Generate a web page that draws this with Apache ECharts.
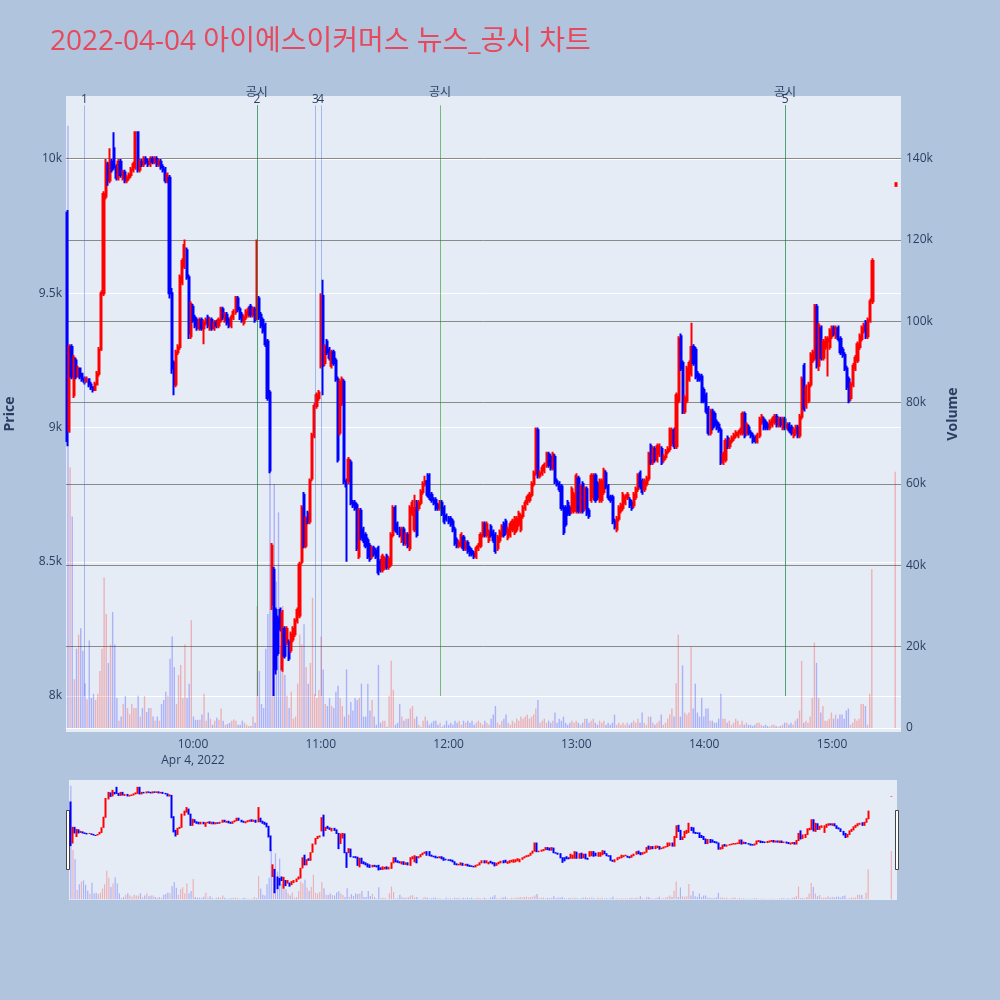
<!DOCTYPE html>
<html>
<head>
<meta charset="utf-8">
<script src="https://cdn.jsdelivr.net/npm/echarts@6/dist/echarts.min.js"></script>
<style>
html,body{margin:0;padding:0;background:#B0C4DE;}
#chart{width:1000px;height:1000px;}
</style>
</head>
<body>
<div id="chart"></div>
<script>
const TITLE = '2022-04-04 아이에스이커머스 뉴스_공시 차트';
const TRADE_DATE = [2022, 3, 4];
const DATE_LABEL = 'Apr 4, 2022';

// minute bars: 09:01 ... 15:19 continuous session, then 15:30 closing auction
const barMinutes = Array.from({length: 379}, (_, i) => i + 1).concat([390]);

const opens = [
9800,8990,9300,9120,9250,9190,9220,9200,9180,9170,
9180,9160,9150,9140,9160,9200,9290,9500,9860,9980,
9920,9990,10040,9970,9930,9990,9930,9950,9920,9930,
9940,9960,9970,10100,9960,9990,9980,10000,9990,9980,
10000,9990,10000,9980,9990,9970,9960,9920,9930,9500,
9240,9160,9280,9300,9540,9600,9660,9560,9340,9450,
9410,9400,9370,9400,9370,9390,9410,9370,9400,9370,
9390,9380,9400,9440,9400,9420,9400,9380,9410,9430,
9480,9440,9420,9390,9410,9420,9450,9420,9440,9410,
9480,9420,9400,9380,9320,9130,8340,8470,8320,8290,
8320,8100,8250,8200,8200,8170,8210,8230,8280,8300,
8500,8750,8560,8680,8650,8810,8970,9080,9110,9230,
9490,9240,9320,9290,9230,9280,9250,9180,8980,9090,
9170,8800,8800,8870,8720,8720,8710,8520,8690,8620,
8600,8580,8560,8520,8550,8540,8550,8500,8470,8480,
8520,8480,8490,8600,8700,8640,8620,8580,8620,8570,
8600,8550,8680,8620,8720,8700,8720,8760,8790,8800,
8820,8750,8730,8730,8710,8700,8720,8700,8670,8660,
8660,8650,8620,8580,8560,8560,8590,8550,8570,8550,
8540,8530,8520,8550,8560,8600,8640,8600,8580,8630,
8610,8600,8550,8580,8600,8640,8650,8590,8600,8620,
8610,8620,8640,8620,8670,8700,8720,8730,8750,8790,
8830,8990,8820,8830,8840,8860,8900,8890,8850,8890,
8800,8790,8780,8700,8700,8720,8700,8690,8690,8690,
8810,8690,8790,8700,8770,8690,8730,8740,8820,8790,
8730,8730,8760,8830,8780,8740,8740,8650,8620,8660,
8690,8700,8720,8740,8730,8720,8710,8740,8770,8830,
8800,8770,8790,8810,8930,8870,8920,8880,8900,8920,
8880,8890,8910,8920,8940,8990,8930,9100,9340,9240,
9060,9100,9180,9200,9300,9290,9200,9190,9190,9140,
9120,9070,8980,9060,9050,9020,9010,8990,8870,8880,
8960,8930,8950,8960,8970,8970,8980,8980,9050,8980,
9000,8980,8970,8960,8950,8970,9020,9030,9020,9010,
9000,9010,9020,9040,9010,9030,9000,9030,9000,9010,
9000,8970,8980,9000,8970,9040,9230,9080,9100,9160,
9250,9260,9450,9230,9370,9260,9300,9320,9300,9340,
9370,9340,9370,9330,9290,9270,9220,9180,9110,9160,
9220,9250,9300,9330,9360,9390,9340,9400,9470,
9900];

const closes = [
8950,9300,9190,9260,9190,9220,9190,9180,9170,9180,
9160,9150,9140,9160,9200,9290,9500,9870,9980,9920,
9990,9960,9970,9930,9990,9940,9950,9920,9930,9940,
9960,9980,10100,9960,9990,9980,10000,9990,9980,10000,
9990,10000,9980,9990,9970,9960,9920,9940,9500,9220,
9160,9280,9300,9560,9620,9680,9560,9350,9460,9400,
9380,9370,9400,9370,9390,9400,9380,9400,9370,9390,
9380,9400,9440,9410,9420,9390,9380,9410,9430,9480,
9440,9410,9400,9410,9430,9440,9420,9440,9400,9480,
9410,9380,9360,9310,9110,8840,8560,8100,8100,8160,
8250,8310,8150,8250,8140,8230,8250,8280,8320,8490,
8700,8560,8660,8650,8800,8970,9080,9120,9130,9490,
9230,9300,9280,9260,9280,9240,9180,8880,9170,9180,
8800,8780,8880,8720,8710,8700,8550,8690,8590,8580,
8560,8520,8510,8550,8530,8520,8460,8470,8520,8510,
8480,8510,8600,8700,8620,8610,8600,8620,8570,8600,
8560,8700,8720,8700,8600,8720,8760,8790,8800,8750,
8740,8730,8720,8700,8700,8720,8680,8650,8660,8650,
8640,8620,8570,8560,8570,8600,8550,8570,8540,8530,
8530,8520,8550,8560,8600,8640,8600,8640,8610,8600,
8580,8540,8590,8610,8630,8600,8610,8620,8640,8650,
8660,8660,8680,8670,8700,8720,8740,8750,8790,8830,
8990,8820,8830,8850,8860,8900,8860,8850,8900,8800,
8790,8770,8700,8610,8640,8680,8680,8770,8750,8820,
8690,8780,8690,8770,8680,8670,8820,8820,8730,8740,
8800,8800,8840,8780,8740,8730,8650,8630,8660,8700,
8710,8750,8740,8750,8710,8700,8750,8770,8820,8780,
8760,8800,8810,8900,8870,8920,8880,8930,8930,8870,
8890,8910,8920,8990,8990,8930,9120,9330,9220,9060,
9110,9220,9240,9300,9240,9190,9180,9180,9100,9100,
9060,8980,9060,9000,9010,9000,8990,8870,8900,8950,
8930,8950,8960,8970,8980,8980,8990,9050,8970,9010,
8980,8970,8950,8950,8970,9030,9040,9000,9000,9000,
9020,9030,9040,9010,9030,9010,9030,9000,9010,8990,
8980,8990,9000,8970,9040,9180,9070,9150,9160,9270,
9280,9450,9230,9380,9260,9320,9330,9330,9360,9370,
9350,9370,9330,9280,9270,9220,9150,9100,9160,9230,
9260,9310,9340,9370,9380,9340,9400,9470,9620,
9910];

const lows = [
8930,8980,9180,9110,9180,9190,9180,9170,9160,9170,
9150,9140,9130,9140,9160,9190,9290,9490,9850,9900,
9910,9950,9960,9920,9920,9930,9920,9910,9910,9920,
9930,9950,9960,9950,9950,9970,9970,9980,9970,9970,
9980,9980,9970,9970,9960,9950,9910,9910,9480,9200,
9120,9150,9270,9290,9530,9590,9550,9330,9330,9390,
9370,9360,9360,9360,9310,9380,9370,9360,9360,9360,
9370,9370,9390,9400,9390,9380,9370,9370,9400,9420,
9430,9400,9390,9380,9400,9410,9410,9410,9390,9400,
9400,9370,9350,9300,9100,8830,8320,8000,8080,8150,
8240,8090,8140,8190,8130,8160,8200,8220,8270,8290,
8490,8550,8550,8640,8640,8800,8960,9070,9100,9220,
9120,9230,9270,9250,9220,9230,9170,8870,8970,9080,
8790,8500,8790,8710,8700,8690,8540,8510,8580,8570,
8550,8510,8500,8510,8520,8510,8450,8460,8460,8470,
8470,8470,8480,8590,8610,8600,8590,8570,8560,8560,
8550,8540,8670,8610,8590,8690,8710,8750,8780,8740,
8730,8720,8710,8690,8690,8690,8670,8640,8650,8640,
8630,8610,8560,8550,8550,8550,8540,8540,8530,8520,
8520,8510,8510,8540,8550,8590,8590,8590,8570,8590,
8570,8530,8540,8570,8590,8590,8600,8580,8590,8610,
8600,8610,8630,8610,8660,8690,8710,8720,8740,8780,
8820,8810,8810,8820,8830,8850,8850,8840,8840,8790,
8780,8760,8690,8600,8630,8670,8670,8680,8680,8680,
8680,8680,8680,8690,8670,8660,8720,8730,8720,8730,
8720,8720,8750,8770,8730,8720,8640,8620,8610,8650,
8680,8690,8710,8730,8700,8690,8700,8730,8760,8770,
8750,8760,8780,8800,8860,8860,8870,8870,8890,8860,
8870,8880,8900,8910,8930,8920,8920,9090,9210,9050,
9050,9090,9170,9190,9230,9180,9170,9170,9090,9090,
9050,8970,8970,8990,9000,8990,8980,8860,8860,8870,
8920,8920,8940,8950,8960,8960,8970,8970,8960,8970,
8970,8960,8940,8940,8940,8960,9010,8990,8990,8990,
8990,9000,9010,9000,9000,9000,8990,8990,8990,8980,
8970,8960,8970,8960,8960,9030,9060,9070,9090,9150,
9240,9250,9220,9210,9250,9250,9290,9190,9290,9330,
9340,9330,9320,9270,9260,9210,9140,9090,9100,9150,
9210,9240,9290,9320,9350,9330,9330,9390,9460,
9900];

const highs = [
9810,9310,9310,9270,9260,9230,9220,9200,9190,9190,
9180,9170,9150,9170,9210,9300,9510,9880,10000,9990,
10040,10000,10100,9980,10000,10000,9960,9960,9940,9950,
9970,9990,10100,10100,10000,10000,10010,10010,10000,10010,
10010,10010,10010,10000,10000,9980,9970,9950,9940,9520,
9250,9290,9310,9570,9630,9700,9670,9570,9470,9460,
9420,9410,9410,9410,9400,9410,9420,9410,9410,9400,
9400,9410,9450,9450,9430,9430,9410,9420,9440,9490,
9490,9450,9430,9420,9440,9450,9460,9450,9450,9700,
9490,9430,9410,9390,9330,9140,8570,8480,8330,8300,
8330,8320,8260,8260,8210,8240,8260,8290,8330,8500,
8710,8760,8670,8690,8810,8980,9090,9130,9140,9500,
9550,9310,9330,9300,9290,9290,9260,9190,9180,9190,
9180,8810,8890,8880,8730,8730,8720,8700,8700,8630,
8610,8590,8570,8560,8560,8550,8560,8510,8530,8520,
8530,8520,8610,8710,8710,8650,8630,8630,8630,8610,
8610,8710,8730,8750,8730,8730,8770,8800,8820,8830,
8830,8760,8740,8740,8720,8730,8730,8710,8680,8670,
8670,8660,8630,8590,8580,8610,8600,8580,8580,8560,
8550,8540,8560,8570,8610,8650,8650,8650,8620,8640,
8620,8610,8600,8620,8640,8650,8660,8630,8650,8660,
8670,8670,8690,8680,8710,8730,8750,8760,8800,8840,
9000,9000,8840,8860,8870,8910,8910,8900,8910,8900,
8810,8800,8790,8710,8710,8730,8710,8780,8760,8830,
8820,8790,8800,8780,8780,8700,8830,8830,8830,8800,
8810,8810,8850,8840,8790,8750,8750,8660,8670,8710,
8720,8760,8750,8760,8740,8730,8760,8780,8830,8840,
8810,8810,8820,8910,8940,8930,8930,8940,8940,8930,
8900,8920,8930,9000,9000,9000,9130,9340,9350,9250,
9120,9230,9250,9390,9310,9300,9210,9200,9200,9150,
9130,9080,9070,9070,9060,9030,9020,9000,8910,8960,
8970,8960,8970,8980,8990,8990,9000,9060,9060,9020,
9010,8990,8980,8970,8980,9040,9050,9040,9030,9020,
9030,9040,9050,9050,9040,9040,9040,9040,9020,9020,
9010,9000,9010,9010,9050,9190,9240,9160,9170,9280,
9290,9460,9460,9390,9380,9330,9340,9340,9370,9380,
9380,9380,9380,9340,9300,9280,9230,9190,9170,9240,
9270,9320,9350,9380,9390,9400,9410,9480,9630,
9910];

const volumes = [
148000,64000,52000,12000,19500,23000,24500,19000,11000,7000,
21500,7400,8400,6900,8400,14000,19500,37000,28000,16000,
20500,28500,20500,7400,1800,2800,5900,7900,4900,3400,
5900,4900,4900,7900,2800,4900,7900,3900,4900,4900,
2800,1800,2800,1800,5900,6900,8900,7900,17000,22500,
15000,5900,13000,15500,7400,20500,7400,10900,26500,2800,
2000,2000,2000,3300,8400,1800,3800,2300,800,1800,
2500,2000,4800,1800,800,1000,1300,1800,2100,1800,
800,800,1800,1300,800,500,500,2800,1300,30000,
14000,5900,4900,19500,28000,65000,31000,60000,36000,53000,
20000,30000,13000,7900,4900,8900,2300,2800,10900,23000,
20500,25500,15000,10900,16000,32000,8400,7400,9400,22500,
14400,5900,5400,7400,5400,4900,8900,10400,7400,5400,
2800,14400,3300,6400,4300,7400,6900,7400,10900,2800,
2800,10900,4300,6900,2800,800,15500,1300,1800,1800,
300,7900,16500,9400,800,1300,5900,2800,1800,2300,
2300,4800,5400,2300,2800,800,300,1800,2800,1800,
800,1300,1800,1800,800,1300,300,800,1800,800,
1300,800,1800,1300,1800,800,1800,1300,1800,1300,
1800,800,1300,1800,1300,800,1800,1300,800,2300,
3300,5400,1300,800,1800,2300,3300,1300,800,1800,
1300,2300,1800,2800,2300,2800,3300,2300,2800,3300,
4800,6900,1300,1800,2300,1300,1800,1300,1800,3800,
1300,2300,1800,2800,1300,800,1300,1800,1300,1800,
1300,800,1300,2300,2300,1300,1800,2300,1300,800,
1800,1300,1800,800,1300,800,1300,3300,800,1300,
800,1300,800,1300,800,1300,1800,1300,2300,1300,
3800,1300,800,2800,2800,1300,800,1300,1800,3300,
800,1300,2300,3300,4800,2800,11000,23000,2800,15400,
3800,3300,3800,20000,4800,10900,3800,2800,7400,2800,
4800,4800,1800,1800,1300,1300,2300,8400,2300,2300,
1300,1800,800,1300,2300,1800,800,1800,800,1300,
800,800,500,800,1300,1300,800,500,800,500,
300,800,800,500,300,500,800,1300,1300,800,
1300,800,1800,2300,4300,16500,1300,1800,1300,2800,
7400,21000,16000,7400,3800,5400,1800,1800,2300,3800,
2300,3300,2300,3300,3300,2300,4300,4800,800,1300,
2300,1800,2300,5900,5900,5400,800,8400,39000,
63000];

// news (numbered) and disclosure (공시) markers
const newsTimes = ['09:09:00', '10:30:00', '10:57:30', '11:00:00', '14:38:00'];
const newsLabels = ['1', '2', '3', '4', '5'];
const disclosureTimes = ['10:30:00', '11:56:00', '14:38:00'];
const disclosureLabel = '공시';
const markerPriceSpan = [8000, 10200];

const priceTicks = [8000, 8500, 9000, 9500, 10000];
const volumeTicks = [0, 20000, 40000, 60000, 80000, 100000, 120000, 140000];

// ---------- build ----------
const BASE = new Date(TRADE_DATE[0], TRADE_DATE[1], TRADE_DATE[2], 9, 0, 0).getTime();
const MS_MIN = 60000;
function clock(s) {
  const p = s.split(':').map(Number);
  return new Date(TRADE_DATE[0], TRADE_DATE[1], TRADE_DATE[2], p[0], p[1], p[2] || 0).getTime();
}
const times = barMinutes.map(m => BASE + m * MS_MIN);
const X_MIN = BASE + 0.4 * MS_MIN;
const X_MAX = BASE + 392.4 * MS_MIN;

const UP = '#FF0000', DOWN = '#0000FF';
const candleData = times.map((t, i) => [t, opens[i], closes[i], lows[i], highs[i]]);
const volData = times.map((t, i) => ({
  value: [t, volumes[i]],
  itemStyle: { color: closes[i] >= opens[i] ? 'rgba(255,0,0,0.25)' : 'rgba(0,0,255,0.25)' }
}));

const NEWS_COLOR = 'rgba(65,105,225,0.4)';
const DISC_COLOR = 'rgba(0,140,0,0.5)';
const TXT = '#2a3f5f';
const FONT = "'Open Sans', 'Noto Sans CJK KR', sans-serif";

const markData = [];
newsTimes.forEach((s, i) => {
  const t = clock(s);
  markData.push([
    { coord: [t, markerPriceSpan[0]], lineStyle: { color: NEWS_COLOR, width: 1, type: 'solid' },
      label: { show: true, position: 'end', formatter: newsLabels[i], color: TXT, fontSize: 12, fontFamily: FONT, distance: 0 } },
    { coord: [t, markerPriceSpan[1]] }
  ]);
});
disclosureTimes.forEach((s) => {
  const t = clock(s);
  markData.push([
    { coord: [t, markerPriceSpan[0]], lineStyle: { color: DISC_COLOR, width: 1, type: 'solid' },
      label: { show: true, position: 'end', formatter: disclosureLabel, color: TXT, fontSize: 12, fontFamily: FONT, distance: 7 } },
    { coord: [t, markerPriceSpan[1]] }
  ]);
});

// layout (pixels)
const PLOT_L = 66, PLOT_W = 835, PLOT_T = 96, PLOT_B = 732;
const PX_PER_WON = 268.5 / 1000;
const Y_10K = 159;
const PX_PER_VOL = 81.37 / 20000;
const Y_VOL0 = 728;
const P_LO = 7500, P_HI = 10500;
const priceGridTop = Y_10K - (P_HI - 10000) * PX_PER_WON;
const priceGridH = (P_HI - P_LO) * PX_PER_WON;
const V_LO = -20000, V_HI = 160000;
const volGridTop = Y_VOL0 - V_HI * PX_PER_VOL;
const volGridH = (V_HI - V_LO) * PX_PER_VOL;
const visPriceMax = 10000 + (Y_10K - PLOT_T) / PX_PER_WON;
const visPriceMin = 10000 - (PLOT_B - Y_10K) / PX_PER_WON;
const visVolMax = (Y_VOL0 - PLOT_T) / PX_PER_VOL;
const visVolMin = -(PLOT_B - Y_VOL0) / PX_PER_VOL;

function priceSplitColors() {
  const c = [];
  for (let v = P_LO; v <= P_HI; v += 500) c.push(priceTicks.includes(v) ? '#ffffff' : 'rgba(0,0,0,0)');
  return c;
}
function volSplitColors() {
  const c = [];
  for (let v = V_LO; v <= V_HI; v += 20000) {
    if (v === 0) c.push('#ffffff');
    else c.push(volumeTicks.includes(v) ? '#8a8a8a' : 'rgba(0,0,0,0)');
  }
  return c;
}

const chart = echarts.init(document.getElementById('chart'), null, { renderer: 'canvas' });
const hidden = { show: false };
const timeAxisBase = { type: 'time', min: X_MIN, max: X_MAX };

chart.setOption({
  animation: false,
  backgroundColor: '#B0C4DE',
  title: {
    text: TITLE, left: 45, top: 23,
    textStyle: { color: '#E8485C', fontSize: 28, fontWeight: 'normal', fontFamily: FONT }
  },
  grid: [
    { left: PLOT_L, width: PLOT_W, top: PLOT_T, height: PLOT_B - PLOT_T, show: true, backgroundColor: '#E5ECF6', borderWidth: 0 },
    { left: PLOT_L, width: PLOT_W, top: priceGridTop, height: priceGridH, show: false },
    { left: PLOT_L, width: PLOT_W, top: volGridTop, height: volGridH, show: false },
    { left: 69, width: 828, top: 780, height: 120, show: true, backgroundColor: '#E5ECF6', borderWidth: 0 },
    { left: 69, width: 828, top: 780, height: 120, show: false }
  ],
  xAxis: [
    Object.assign({}, timeAxisBase, {
      gridIndex: 0,
      minInterval: 3600000, maxInterval: 3600000,
      axisLine: hidden, axisTick: hidden, splitLine: hidden,
      axisLabel: {
        color: TXT, fontSize: 12, fontFamily: FONT, margin: 5, lineHeight: 16,
        showMinLabel: false, showMaxLabel: false,
        formatter: function (v) {
          const d = new Date(v);
          const s = String(d.getHours()).padStart(2, '0') + ':' + String(d.getMinutes()).padStart(2, '0');
          return (d.getHours() === 10 && d.getMinutes() === 0) ? s + '\n' + DATE_LABEL : s;
        }
      }
    }),
    Object.assign({}, timeAxisBase, { gridIndex: 1, show: false }),
    Object.assign({}, timeAxisBase, { gridIndex: 2, show: false }),
    Object.assign({}, timeAxisBase, { gridIndex: 3, show: false }),
    Object.assign({}, timeAxisBase, { gridIndex: 4, show: false })
  ],
  yAxis: [
    { gridIndex: 0, type: 'value', min: 0, max: 1, show: false },
    {
      gridIndex: 1, type: 'value', min: P_LO, max: P_HI, interval: 500, position: 'left',
      axisLine: hidden, axisTick: hidden,
      axisLabel: {
        color: TXT, fontSize: 12, fontFamily: FONT, margin: 4,
        formatter: v => priceTicks.includes(v) ? (v / 1000) + 'k' : ''
      },
      splitLine: { show: true, lineStyle: { color: priceSplitColors(), width: 1 } }
    },
    {
      gridIndex: 2, type: 'value', min: V_LO, max: V_HI, interval: 20000, position: 'right',
      axisLine: hidden, axisTick: hidden,
      axisLabel: {
        color: TXT, fontSize: 12, fontFamily: FONT, margin: 5,
        formatter: v => volumeTicks.includes(v) ? (v === 0 ? '0' : (v / 1000) + 'k') : ''
      },
      splitLine: { show: true, lineStyle: { color: volSplitColors(), width: 1 } }
    },
    { gridIndex: 3, type: 'value', min: visPriceMin, max: visPriceMax, show: false },
    { gridIndex: 4, type: 'value', min: visVolMin, max: visVolMax, show: false }
  ],
  series: [
    {
      type: 'bar', xAxisIndex: 2, yAxisIndex: 2, data: volData, barWidth: 1.4, silent: true, z: 1
    },
    {
      type: 'candlestick', xAxisIndex: 1, yAxisIndex: 1, data: candleData, barWidth: 1.6, silent: true, z: 3,
      itemStyle: { color: UP, color0: DOWN, borderColor: UP, borderColor0: DOWN, borderWidth: 2 },
      markLine: { symbol: ['none', 'none'], silent: true, animation: false, data: markData }
    },
    {
      type: 'bar', xAxisIndex: 4, yAxisIndex: 4, data: volData, barWidth: 1.2, silent: true, z: 1
    },
    {
      type: 'candlestick', xAxisIndex: 3, yAxisIndex: 3, data: candleData, barWidth: 1.2, silent: true, z: 3,
      itemStyle: { color: UP, color0: DOWN, borderColor: UP, borderColor0: DOWN, borderWidth: 2 }
    }
  ],
  graphic: [
    { type: 'text', x: 10, y: 414, rotation: Math.PI / 2,
      style: { text: 'Price', font: "bold 14px 'Open Sans'", fill: TXT, align: 'center', verticalAlign: 'middle' } },
    { type: 'text', x: 953, y: 414, rotation: Math.PI / 2,
      style: { text: 'Volume', font: "bold 14px 'Open Sans'", fill: TXT, align: 'center', verticalAlign: 'middle' } },
    { type: 'rect', shape: { x: 66.5, y: 810.5, width: 3, height: 59 }, style: { fill: '#ffffff', stroke: '#444444', lineWidth: 1 } },
    { type: 'rect', shape: { x: 895.5, y: 810.5, width: 3, height: 59 }, style: { fill: '#ffffff', stroke: '#444444', lineWidth: 1 } }
  ]
});
</script>
</body>
</html>
